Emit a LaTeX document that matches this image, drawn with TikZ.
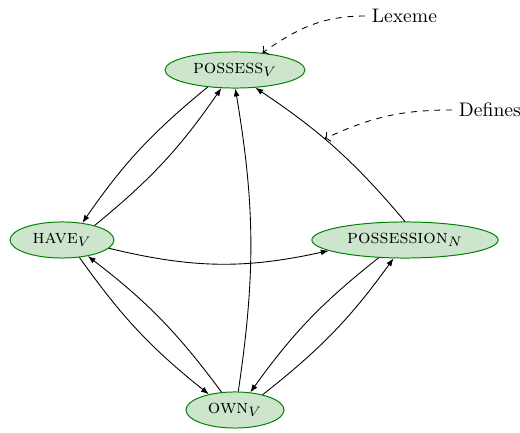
\documentclass[tikz,border=0pt]{standalone}
\usetikzlibrary{shapes.geometric,arrows.meta}
\definecolor{lexfill}{rgb}{0.8,0.9,0.8}
\definecolor{lexdraw}{rgb}{0,0.5,0}
\begin{document}
\begin{tikzpicture}[x=0.51pt,y=-0.51pt,
  lexeme/.style={ellipse,draw=lexdraw,fill=lexfill,line width=0.5pt,
    minimum height=18.4pt,inner sep=1pt,font=\scshape},
  rel/.style={-{Latex[length=4pt,width=3pt]},line width=0.45pt},
  note/.style={dashed,->,line width=0.45pt},
  label/.style={anchor=west,font=\normalsize}]
  \useasboundingbox (0,0) rectangle (520,433);

  % lexeme nodes
  \node[lexeme,minimum width=71.4pt] (possess) at (235,70) {possess$_V$};
  \node[lexeme,minimum width=53pt] (have) at (62,240) {have$_V$};
  \node[lexeme,minimum width=95pt] (possession) at (405,240) {possession$_N$};
  \node[lexeme,minimum width=50pt] (own) at (235,410) {own$_V$};

  % relations between the lexemes
  \draw[rel] (possess.212) to[bend right=8] (have.40);
  \draw[rel] (have.24) to[bend right=8] (possess.233);
  \draw[rel] (own.80) to[bend right=9] (possess.271);
  \draw[rel] (possession.90) to[bend right=8] coordinate[pos=0.58] (defpt) (possess.319);
  \draw[rel] (have.350) to[bend right=13] (possession.188);
  \draw[rel] (have.315) to[bend right=8] (own.149);
  \draw[rel] (own.127) to[bend right=8] (have.328);
  \draw[rel] (possession.214) to[bend right=8] (own.49);
  \draw[rel] (own.29) to[bend right=8] (possession.238);

  % annotations
  \node[label] (lex) at (365,16) {Lexeme};
  \node[label] (def) at (452,110) {Defines};
  \draw[note] (lex.west) to[out=180,in=35] (possess.32);
  \draw[note] (def.west) to[out=180,in=25] (defpt);
\end{tikzpicture}
\end{document}
